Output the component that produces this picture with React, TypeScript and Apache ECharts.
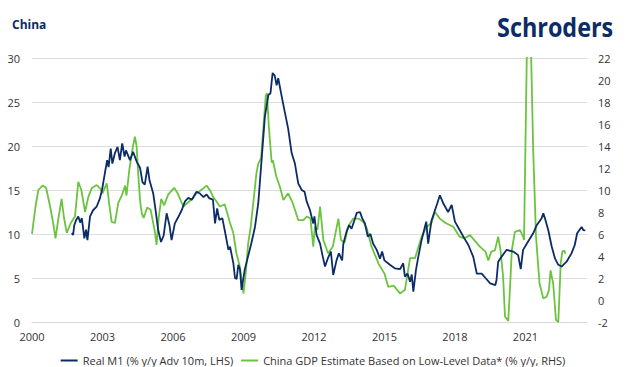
import React, { useEffect, useRef } from "react";
import * as echarts from "echarts";

const BASE_YEAR = 2000;
const X_MAX = 23.62;
const xTickYears = [2000, 2003, 2006, 2009, 2012, 2015, 2018, 2021];
const leftTicks = [0, 5, 10, 15, 20, 25, 30];
const rightTicks = [-2, 0, 2, 4, 6, 8, 10, 12, 14, 16, 18, 20, 22];

const m1Dates = [
  2001.69, 2001.75, 2001.8, 2001.88, 2001.97, 2002.05, 2002.12, 2002.23, 2002.3, 2002.36, 2002.47, 2002.6, 2002.75,
  2002.89, 2002.98, 2003.1, 2003.2, 2003.26, 2003.35, 2003.42, 2003.53, 2003.64, 2003.74, 2003.84, 2003.94, 2004.0,
  2004.17, 2004.3, 2004.46, 2004.6, 2004.7, 2004.8, 2004.92, 2005.0, 2005.16, 2005.26, 2005.37, 2005.49, 2005.6,
  2005.73, 2005.85, 2005.94, 2006.08, 2006.22, 2006.37, 2006.51, 2006.65, 2006.8, 2007.0, 2007.15, 2007.3, 2007.43,
  2007.55, 2007.7, 2007.79, 2007.88, 2007.97, 2008.1, 2008.2, 2008.36, 2008.43, 2008.57, 2008.64, 2008.71, 2008.78,
  2008.85, 2008.92, 2009.05, 2009.19, 2009.33, 2009.49, 2009.63, 2009.77, 2009.91, 2010.06, 2010.15, 2010.24, 2010.33,
  2010.41, 2010.48, 2010.6, 2010.74, 2010.9, 2011.05, 2011.19, 2011.33, 2011.48, 2011.6, 2011.69, 2011.83, 2011.97,
  2012.02, 2012.11, 2012.26, 2012.36, 2012.47, 2012.6, 2012.72, 2012.82, 2012.96, 2013.06, 2013.2, 2013.25, 2013.39,
  2013.5, 2013.6, 2013.75, 2013.82, 2013.96, 2014.05, 2014.17, 2014.29, 2014.4, 2014.52, 2014.67, 2014.81, 2014.9,
  2015.0, 2015.23, 2015.44, 2015.66, 2015.8, 2015.87, 2015.98, 2016.09, 2016.16, 2016.23, 2016.34, 2016.44, 2016.58,
  2016.72, 2016.78, 2016.86, 2017.0, 2017.15, 2017.25, 2017.36, 2017.5, 2017.71, 2017.86, 2018.0, 2018.2, 2018.4,
  2018.57, 2018.78, 2018.93, 2019.14, 2019.3, 2019.5, 2019.72, 2019.77, 2019.84, 2019.98, 2020.2, 2020.48, 2020.69,
  2020.8, 2020.9, 2021.1, 2021.33, 2021.48, 2021.69, 2021.76, 2021.83, 2021.97, 2022.12, 2022.26, 2022.4, 2022.54,
  2022.75, 2022.96, 2023.1, 2023.2, 2023.39, 2023.46, 2023.55,
];
const m1Values = [
  10.1, 9.9, 11.0, 11.6, 12.0, 11.3, 11.8, 9.5, 10.5, 9.3, 12.0, 12.7, 13.1,
  14.05, 15.0, 16.9, 18.4, 17.6, 19.7, 18.0, 19.2, 19.9, 18.4, 20.3, 18.8, 19.5,
  18.4, 19.35, 18.2, 17.5, 15.9, 15.6, 17.65, 16.1, 14.6, 12.7, 10.45, 9.1, 9.8,
  12.35, 11.0, 9.3, 11.2, 11.9, 12.7, 13.7, 14.1, 13.9, 14.8, 14.6, 14.2, 14.5,
  14.05, 13.9, 11.2, 12.9, 11.6, 11.8, 10.45, 8.2, 8.55, 6.67, 5.0, 4.9, 6.5,
  6.0, 3.64, 5.9, 7.4, 8.9, 10.8, 13.5, 18.4, 23.3, 25.8, 26.0, 28.3, 28.0,
  26.9, 27.7, 26.0, 24.1, 22.0, 19.2, 18.0, 15.75, 15.0, 14.8, 13.7, 12.7, 11.2,
  12.0, 9.9, 8.9, 7.6, 6.3, 7.3, 8.0, 5.34, 7.0, 7.8, 7.0, 8.9, 10.3,
  11.0, 10.6, 11.8, 12.4, 12.5, 11.8, 11.2, 9.7, 10.0, 8.9, 8.2, 7.2, 8.0,
  7.0, 6.5, 6.1, 6.0, 6.67, 5.15, 5.5, 4.58, 5.4, 3.45, 5.9, 7.4, 9.3,
  10.8, 11.4, 8.9, 11.5, 12.7, 13.5, 14.4, 13.5, 12.5, 13.3, 11.4, 10.45, 9.5,
  8.75, 7.4, 5.5, 5.5, 5.0, 4.4, 4.2, 4.77, 6.85, 7.4, 8.2, 8.0, 7.6,
  6.0, 8.2, 9.1, 10.08, 11.0, 11.8, 12.35, 11.8, 10.45, 8.55, 7.2, 6.5, 6.3,
  6.85, 7.8, 8.75, 10.08, 10.8, 10.45, 10.4,
];

const gdpDates = [
  2000.0, 2000.15, 2000.27, 2000.45, 2000.6, 2000.77, 2000.9, 2001.0, 2001.13, 2001.26, 2001.36, 2001.48, 2001.65,
  2001.83, 2001.97, 2002.1, 2002.26, 2002.4, 2002.54, 2002.75, 2002.9, 2003.0, 2003.18, 2003.3, 2003.39, 2003.53,
  2003.67, 2003.84, 2003.96, 2004.02, 2004.15, 2004.3, 2004.38, 2004.45, 2004.52, 2004.6, 2004.67, 2004.75, 2004.9,
  2005.05, 2005.23, 2005.3, 2005.4, 2005.5, 2005.62, 2005.8, 2006.05, 2006.2, 2006.44, 2006.6, 2006.85, 2007.0,
  2007.2, 2007.43, 2007.6, 2007.7, 2008.0, 2008.2, 2008.43, 2008.57, 2008.7, 2008.85, 2009.0, 2009.1, 2009.2,
  2009.3, 2009.42, 2009.55, 2009.63, 2009.75, 2009.85, 2009.95, 2010.0, 2010.08, 2010.2, 2010.25, 2010.3, 2010.4,
  2010.55, 2010.7, 2010.9, 2011.1, 2011.33, 2011.55, 2011.7, 2011.85, 2011.97, 2012.04, 2012.15, 2012.26, 2012.4,
  2012.6, 2012.8, 2013.04, 2013.15, 2013.3, 2013.45, 2013.67, 2013.9, 2014.1, 2014.25, 2014.45, 2014.75, 2015.0,
  2015.16, 2015.4, 2015.66, 2015.87, 2016.09, 2016.3, 2016.58, 2016.8, 2017.0, 2017.15, 2017.36, 2017.6, 2017.93,
  2018.2, 2018.4, 2018.64, 2019.06, 2019.3, 2019.42, 2019.55, 2019.7, 2019.84, 2019.94, 2020.05, 2020.13, 2020.27,
  2020.36, 2020.42, 2020.55, 2020.77, 2020.9, 2020.94, 2021.06, 2021.15, 2021.24, 2021.33, 2021.45, 2021.6, 2021.76,
  2021.9, 2022.0, 2022.07, 2022.18, 2022.3, 2022.4, 2022.5, 2022.57, 2022.66, 2022.7,
];
const gdpValues = [
  6.0, 8.5, 10.0, 10.4, 10.2, 8.5, 7.0, 5.6, 7.5, 9.2, 7.5, 6.1, 7.0,
  7.6, 10.75, 10.0, 8.0, 9.4, 10.15, 10.45, 10.15, 9.7, 10.6, 8.5, 7.1, 7.0,
  8.8, 9.6, 10.4, 9.5, 12.0, 14.0, 14.85, 14.0, 11.5, 9.0, 7.9, 7.45, 8.4,
  8.2, 6.2, 5.0, 7.6, 9.2, 8.6, 9.6, 10.2, 9.7, 8.5, 8.8, 9.25, 9.7,
  10.0, 10.4, 9.9, 9.4, 8.5, 8.7, 7.0, 6.06, 4.25, 3.0, 0.6, 2.5, 5.15,
  6.5, 8.9, 11.5, 12.4, 12.9, 15.75, 18.6, 18.8, 15.75, 12.5, 12.7, 12.2, 11.2,
  10.3, 9.1, 9.7, 8.8, 7.27, 7.27, 7.6, 7.4, 4.85, 6.66, 6.4, 8.5, 5.45,
  4.25, 4.85, 7.4, 5.45, 5.2, 6.66, 7.4, 7.4, 7.1, 6.5, 4.85, 3.3, 2.4,
  1.2, 1.3, 0.6, 0.9, 3.8, 3.8, 5.76, 6.66, 7.0, 8.0, 7.4, 7.0, 6.66,
  5.76, 5.6, 5.9, 4.85, 4.4, 3.6, 4.4, 4.5, 5.76, 4.5, 2.1, -1.5, -1.9,
  1.8, 4.5, 6.2, 6.36, 5.76, 5.45, 22.5, 32, 22.5, 13.6, 5.76, 1.5, 0.15,
  0.3, 0.9, 2.7, 1.5, -1.8, -2.0, 3.3, 4.4, 4.5, 4.2,
];

const m1Name = "Real M1 (% y/y Adv 10m, LHS)";
const gdpName = "China GDP Estimate Based on Low-Level Data* (% y/y, RHS)";

const NAVY = "#0b2c66";
const GREEN = "#6cc340";
const FONT = "'Open Sans', 'Noto Sans', sans-serif";

export default function App() {
  const ref = useRef<HTMLDivElement>(null);
  useEffect(() => {
    if (!ref.current) return;
    const chart = echarts.init(ref.current, undefined, { renderer: "svg" });
    const m1Data = m1Dates.map((d, i) => [d - BASE_YEAR, m1Values[i]]);
    const gdpData = gdpDates.map((d, i) => [d - BASE_YEAR, gdpValues[i]]);
    const isTick = (v: number) => xTickYears.some((y) => Math.abs(y - BASE_YEAR - v) < 1e-6);
    chart.setOption({
      animation: false,
      backgroundColor: "#ffffff",
      textStyle: { fontFamily: FONT },
      title: {
        text: "China",
        left: 7,
        top: 13,
        textStyle: { fontSize: 12, fontWeight: "bold", color: NAVY, fontFamily: FONT },
      },
      graphic: [
        {
          type: "text",
          x: 497,
          y: 27,
          scaleX: 0.9,
          style: {
            text: "Schroders",
            font: "bold 26px 'Open Sans', sans-serif",
            fill: NAVY,
            verticalAlign: "middle",
            align: "left",
          },
        },
      ],
      grid: { left: 32, right: 39, top: 58, bottom: 45, containLabel: false },
      legend: {
        left: "center",
        top: 350,
        icon: "rect",
        itemWidth: 17,
        itemHeight: 2,
        itemGap: 8,
        textStyle: { fontSize: 11, color: "#333333", fontFamily: FONT },
        data: [m1Name, gdpName],
      },
      xAxis: {
        type: "value",
        min: 0,
        max: X_MAX,
        interval: 3,
        axisLine: { show: true, lineStyle: { color: "#d9d9d9", width: 1 } },
        axisTick: { show: false },
        splitLine: { show: false },
        axisLabel: {
          show: true,
          margin: 9,
          fontSize: 11,
          color: "#333333",
          fontFamily: FONT,
          showMaxLabel: false,
          formatter: (v: number) => (isTick(v) ? String(Math.round(v + BASE_YEAR)) : ""),
        },
      },
      yAxis: [
        {
          type: "value",
          min: leftTicks[0],
          max: leftTicks[leftTicks.length - 1],
          interval: 5,
          position: "left",
          axisLine: { show: false },
          axisTick: { show: false },
          splitLine: { show: true, lineStyle: { color: "#dcdcdc", width: 1 } },
          axisLabel: { margin: 12, fontSize: 11, color: "#333333", fontFamily: FONT },
        },
        {
          type: "value",
          min: rightTicks[0],
          max: rightTicks[rightTicks.length - 1],
          interval: 2,
          position: "right",
          axisLine: { show: false },
          axisTick: { show: false },
          splitLine: { show: false },
          axisLabel: { margin: 11, fontSize: 11, color: "#333333", fontFamily: FONT },
        },
      ],
      series: [
        {
          name: m1Name,
          type: "line",
          yAxisIndex: 0,
          data: m1Data,
          showSymbol: false,
          symbol: "none",
          lineStyle: { color: NAVY, width: 1.8 },
          itemStyle: { color: NAVY },
          z: 3,
        },
        {
          name: gdpName,
          type: "line",
          yAxisIndex: 1,
          data: gdpData,
          showSymbol: false,
          symbol: "none",
          clip: true,
          lineStyle: { color: GREEN, width: 1.8 },
          itemStyle: { color: GREEN },
          z: 2,
        },
      ],
    });
    return () => chart.dispose();
  }, []);
  return (
    <div
      ref={ref}
      style={{ position: "fixed", left: 0, top: 0, width: 626, height: 367, background: "#fff" }}
    />
  );
}
